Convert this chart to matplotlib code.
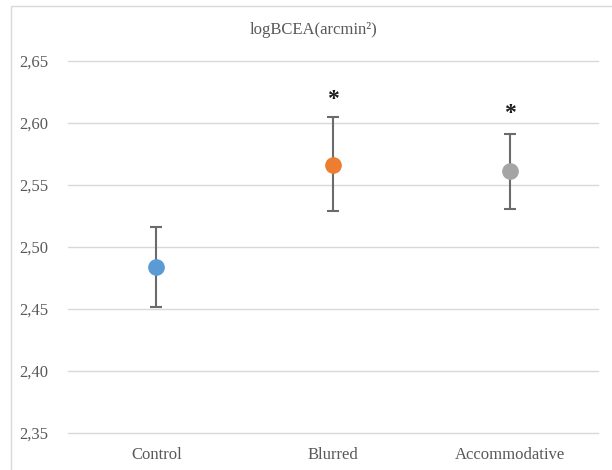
import matplotlib.pyplot as plt
from matplotlib.patches import Rectangle
from matplotlib.ticker import FuncFormatter

# data
groups = ['Control', 'Blurred', 'Accommodative']
means = [2.484, 2.566, 2.561]
err_low = [2.452, 2.529, 2.531]
err_high = [2.516, 2.605, 2.591]
colors = ['#5B9BD5', '#ED7D31', '#A5A5A5']
star_y = [None, 2.619, 2.608]   # where the significance marks sit
yticks = [2.35, 2.40, 2.45, 2.50, 2.55, 2.60, 2.65]

plt.rcParams['font.family'] = ['Liberation Serif', 'DejaVu Serif']
txt = '#595959'

fig = plt.figure(figsize=(6.12, 4.70), dpi=100)
fig.patches.append(Rectangle((11 / 612, -0.01), 1.0, 1 - 6 / 470 + 0.01,
                             transform=fig.transFigure, fill=False,
                             edgecolor='#D9D9D9', linewidth=1))
ax = fig.add_axes([68 / 612, 1 - 433 / 470, 530 / 612, 372 / 470])

x = list(range(len(groups)))
for i in x:
    lo = means[i] - err_low[i]
    hi = err_high[i] - means[i]
    ax.errorbar(i, means[i], yerr=[[lo], [hi]], fmt='none', ecolor='#6B6B6B',
                elinewidth=1.5, capsize=4, capthick=1.5, zorder=2)
    ax.plot(i, means[i], 'o', color=colors[i], markersize=11, zorder=3)
    if star_y[i] is not None:
        ax.text(i, star_y[i], '*', ha='center', va='center', fontsize=17,
                fontweight='bold', color='#1a1a1a')

ax.set_xlim(-0.5, 2.5)
ax.set_ylim(2.35, 2.65)
ax.set_yticks(yticks)
ax.yaxis.set_major_formatter(FuncFormatter(lambda v, p: f'{v:.2f}'.replace('.', ',')))
ax.set_xticks(x)
ax.set_xticklabels(groups)
ax.tick_params(length=0, labelsize=12, labelcolor=txt, pad=10)
ax.tick_params(axis='y', pad=14)
ax.grid(axis='y', color='#D9D9D9', linewidth=1)
for gl in ax.get_ygridlines():
    gl.set_clip_on(False)
ax.set_axisbelow(True)
for s in ax.spines.values():
    s.set_visible(False)

fig.text(314 / 612, 1 - 30 / 470, 'logBCEA(arcmin²)', ha='center', va='center',
         fontsize=12, color=txt)

fig.savefig('out.png', dpi=100)
